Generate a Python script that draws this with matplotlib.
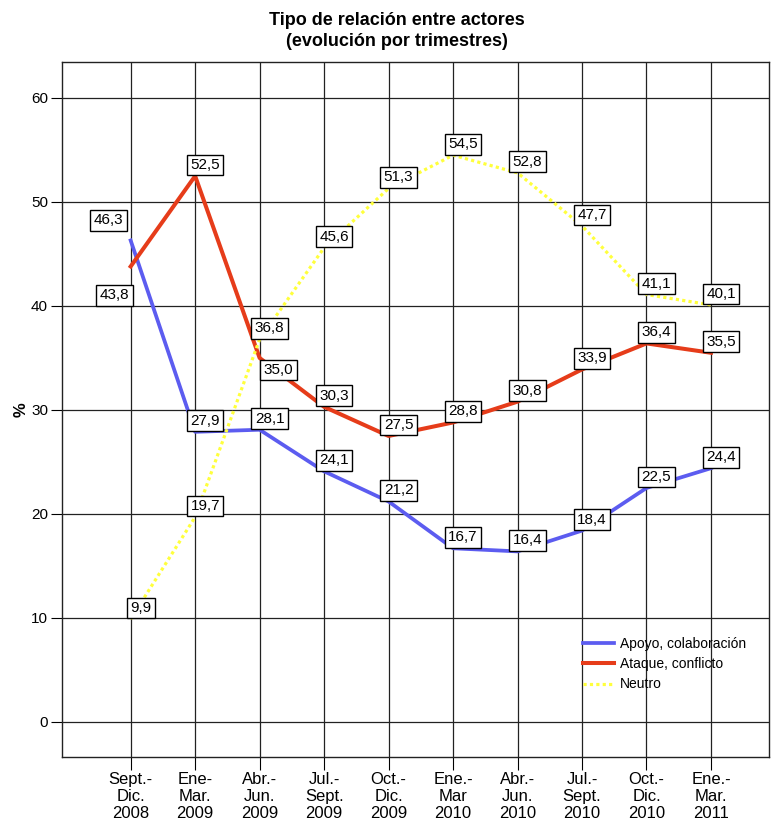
import matplotlib
matplotlib.use('Agg')
import matplotlib.pyplot as plt

plt.rcParams['font.family'] = ['Liberation Sans', 'DejaVu Sans']

# trimestres
periodos = ['Sept.-\nDic.\n2008', 'Ene-\nMar.\n2009', 'Abr.-\nJun.\n2009', 'Jul.-\nSept.\n2009',
            'Oct.-\nDic.\n2009', 'Ene.-\nMar\n2010', 'Abr.-\nJun.\n2010', 'Jul.-\nSept.\n2010',
            'Oct.-\nDic.\n2010', 'Ene.-\nMar.\n2011']
apoyo = [46.3, 27.9, 28.1, 24.1, 21.2, 16.7, 16.4, 18.4, 22.5, 24.4]
ataque = [43.8, 52.5, 35.0, 30.3, 27.5, 28.8, 30.8, 33.9, 36.4, 35.5]
neutro = [9.9, 19.7, 36.8, 45.6, 51.3, 54.5, 52.8, 47.7, 41.1, 40.1]

# desplazamiento de etiquetas (pixeles), casi todas arriba a la derecha
d = (10, 11)
off_apoyo = [(-22, 20)] + [d] * 9
off_ataque = [(-16, -29), d, (19, -12)] + [d] * 7
off_neutro = [d] * 10

x = list(range(len(periodos)))

fig = plt.figure(figsize=(7.71, 8.25), dpi=100)
ax = fig.add_axes([62 / 771, 1 - 757 / 825, 707 / 771, 695 / 825])

ax.plot(x, apoyo, color='#5c5cf0', lw=2.7, label='Apoyo, colaboración', zorder=3)
ax.plot(x, ataque, color='#e63c1a', lw=2.9, label='Ataque, conflicto', zorder=3)
ax.plot(x, neutro, color='#ffff3c', lw=2.3, ls=(0, (1, 1)), label='Neutro', zorder=3)

for vals, offs in [(apoyo, off_apoyo), (ataque, off_ataque), (neutro, off_neutro)]:
    for i, v in enumerate(vals):
        ax.annotate(f'{v:.1f}'.replace('.', ','), (i, v), xytext=offs[i],
                    textcoords='offset pixels', ha='center', va='center', fontsize=11,
                    bbox=dict(boxstyle='square,pad=0.22', fc='white', ec='black', lw=1),
                    zorder=5)

ax.set_xlim(-1.065, 9.90)
ax.set_ylim(-3.37, 63.46)
ax.set_xticks(x)
ax.set_xticklabels(periodos, fontsize=12, linespacing=1.15)
ax.set_yticks([0, 10, 20, 30, 40, 50, 60])
ax.tick_params(axis='y', labelsize=11, length=8, pad=2)
ax.tick_params(axis='x', length=9, pad=2)
ax.grid(True, color='#222222', lw=0.9, zorder=1)
for s in ax.spines.values():
    s.set_color('#222222')
    s.set_linewidth(1)

ax.set_ylabel('%', fontsize=12, fontweight='bold', labelpad=2)

fig.text(397 / 771, 1 - 12 / 825, 'Tipo de relación entre actores\n(evolución por trimestres)',
         ha='center', va='top', fontsize=13, fontweight='bold', linespacing=1.3)

leg = ax.legend(loc='upper left', bbox_to_anchor=(583 / 771, 1 - 637 / 825),
                bbox_transform=fig.transFigure, frameon=False, borderpad=0, borderaxespad=0,
                fontsize=10, handlelength=2.2, labelspacing=0.45, handletextpad=0.45)

plt.savefig('out.png', dpi=100)
